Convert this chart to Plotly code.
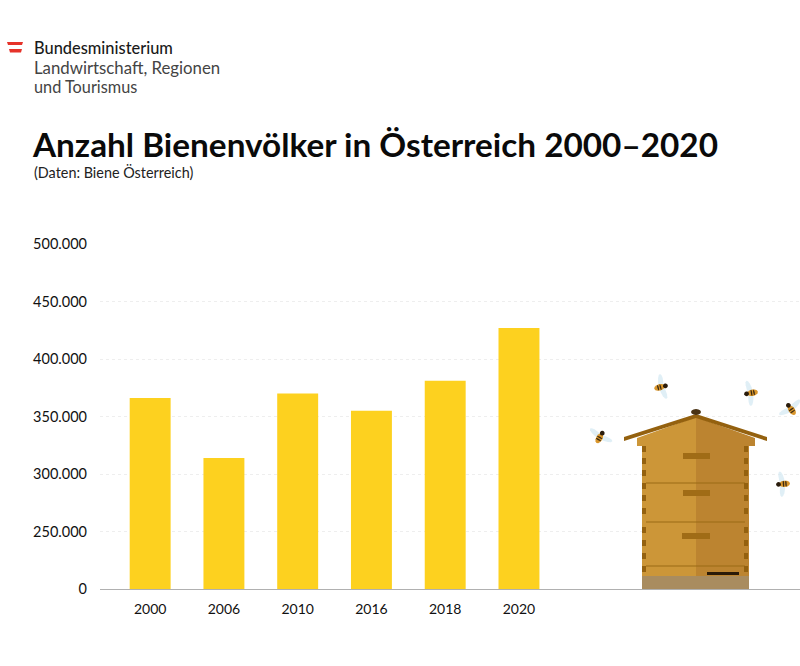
import numpy as np
import plotly.graph_objects as go

years = ['2000', '2006', '2010', '2016', '2018', '2020']
colonies = [366000, 314000, 370000, 355000, 381000, 427000]

# the axis is cut: the label 0 sits where 200.000 would be
tick_vals = [200000, 250000, 300000, 350000, 400000, 450000, 500000]
tick_text = ['0', '250.000', '300.000', '350.000', '400.000', '450.000', '500.000']

W = 800
H = 666
LEFT = 100
TOP = 244
BOTTOM = 589


# pixel position in the picture -> paper fraction of the plot area
def px(x):
    return (x - LEFT) / (W - LEFT)


def py(y):
    return (BOTTOM - y) / (BOTTOM - TOP)


def rect(x0, y0, x1, y1, color):
    return dict(type='rect', xref='paper', yref='paper', x0=px(x0), x1=px(x1), y0=py(y0), y1=py(y1),
                fillcolor=color, line_width=0, layer='above')


def poly(points, color):
    path = 'M ' + ' L '.join(f'{px(a):.5f} {py(b):.5f}' for a, b in points) + ' Z'
    return dict(type='path', xref='paper', yref='paper', path=path, fillcolor=color, line_width=0, layer='above')


def ellipse(cx, cy, a, b, angle, color, opacity=1):
    t = np.radians(np.arange(0, 360, 30))
    r = np.radians(angle)
    xs = cx + a * np.cos(t) * np.cos(r) - b * np.sin(t) * np.sin(r)
    ys = cy + a * np.cos(t) * np.sin(r) + b * np.sin(t) * np.cos(r)
    s = poly(list(zip(xs, ys)), color)
    s['opacity'] = opacity
    return s


def bee(cx, cy, angle):
    # angle points from the tail to the head
    r = np.radians(angle)
    dx, dy = np.cos(r), np.sin(r)
    parts = [
        ellipse(cx - 5 * dy + dx, cy + 5 * dx + dy, 8, 2.6, angle + 80, '#d5e9f3', 0.75),
        ellipse(cx + 5 * dy + dx, cy - 5 * dx + dy, 8, 2.6, angle - 80, '#d5e9f3', 0.75),
        ellipse(cx - 1.5 * dx, cy - 1.5 * dy, 5.5, 3.2, angle, '#d9962c'),
        ellipse(cx - 0.5 * dx, cy - 0.5 * dy, 0.7, 3.1, angle, '#3a2a12'),
        ellipse(cx - 3 * dx, cy - 3 * dy, 0.7, 2.9, angle, '#3a2a12'),
        ellipse(cx + 4.5 * dx, cy + 4.5 * dy, 2.4, 2.4, angle, '#2a1c0c'),
    ]
    return parts


shapes = []

# logo
shapes.append(poly([(7, 42), (23, 42), (22, 45), (8, 45)], '#e6332a'))
shapes.append(poly([(9, 49), (22, 49), (21, 52.5), (10, 52.5)], '#e6332a'))

# hive
shapes.append(poly([(637, 438), (696, 417), (696, 576), (642, 576), (642, 446), (637, 446)], '#cc9638'))
shapes.append(poly([(755, 438), (696, 417), (696, 576), (749, 576), (749, 446), (755, 446)], '#bc8430'))
shapes.append(poly([(624, 437), (696, 414), (767, 437), (767, 441), (696, 418), (624, 441)], '#94610f'))
shapes.append(rect(642, 576, 749, 589, '#a98c5f'))
for y in [482.5, 521.5, 565.5]:
    shapes.append(rect(646, y, 745, y + 0.9, '#9a6a14'))
shapes.append(rect(683, 453, 710, 459, '#a06c16'))
shapes.append(rect(683, 490, 710, 496, '#a06c16'))
shapes.append(rect(682, 533, 710, 539, '#a06c16'))
for y in [446, 458, 470, 483, 495, 508, 527, 540, 553, 566]:
    shapes.append(rect(642, y, 646, y + 6, '#94610f'))
    shapes.append(rect(744, y, 748, y + 6, '#94610f'))
shapes.append(rect(707, 572, 739, 575, '#2a1a08'))
shapes.append(ellipse(696, 412, 5, 3, 0, '#4a3314'))

for cx, cy, angle in [(661, 387, -15), (751, 393, 170), (791, 409, -125), (600, 437, -60), (783, 484, 175)]:
    shapes += bee(cx, cy, angle)

annotations = []


def label(x, y, text, size, color='#111111', weight=400, shift=-1):
    annotations.append(dict(xref='paper', yref='paper', x=px(x), y=py(y), text=text, showarrow=False,
                            xanchor='left', yanchor='middle', align='left', xshift=shift,
                            font=dict(family='Lato', size=size, color=color, weight=weight)))


label(33, 47.5, 'Bundesministerium', 16.4, '#1a1a1a', 500)
label(33, 67, 'Landwirtschaft, Regionen', 16.8, '#444444')
label(33, 86, 'und Tourismus', 16.3, '#444444')
label(33, 144, 'Anzahl Bienenvölker in Österreich 2000–2020', 33.3, '#0a0a0a', 700, -3)
label(33, 173, '(Daten: Biene Österreich)', 14.4, '#222222')

fig = go.Figure(go.Bar(x=years, y=colonies, width=0.555, marker=dict(color='#fdd11f', line_width=0)))

fig.update_layout(
    width=W,
    height=H,
    margin=dict(l=LEFT, r=0, t=TOP, b=H - BOTTOM),
    paper_bgcolor='white',
    plot_bgcolor='white',
    showlegend=False,
    shapes=shapes,
    annotations=annotations,
    font=dict(family='Lato', size=14, color='#111111'),
)
fig.update_xaxes(type='category', range=[-0.68, 8.81], showgrid=False, showline=True, linecolor='#b0b0b0',
                 linewidth=1, ticks='', ticklabelstandoff=7, tickfont_size=14)
fig.update_yaxes(range=[200000, 500000], tickvals=tick_vals, ticktext=tick_text, showgrid=True,
                 gridcolor='#eeeeee', griddash='dot', gridwidth=1, zeroline=False, ticks='',
                 ticklabelstandoff=12, tickfont_size=14.5)

fig.write_html('out.html', config={'displayModeBar': False}, post_script="document.body.style.margin='0';")
